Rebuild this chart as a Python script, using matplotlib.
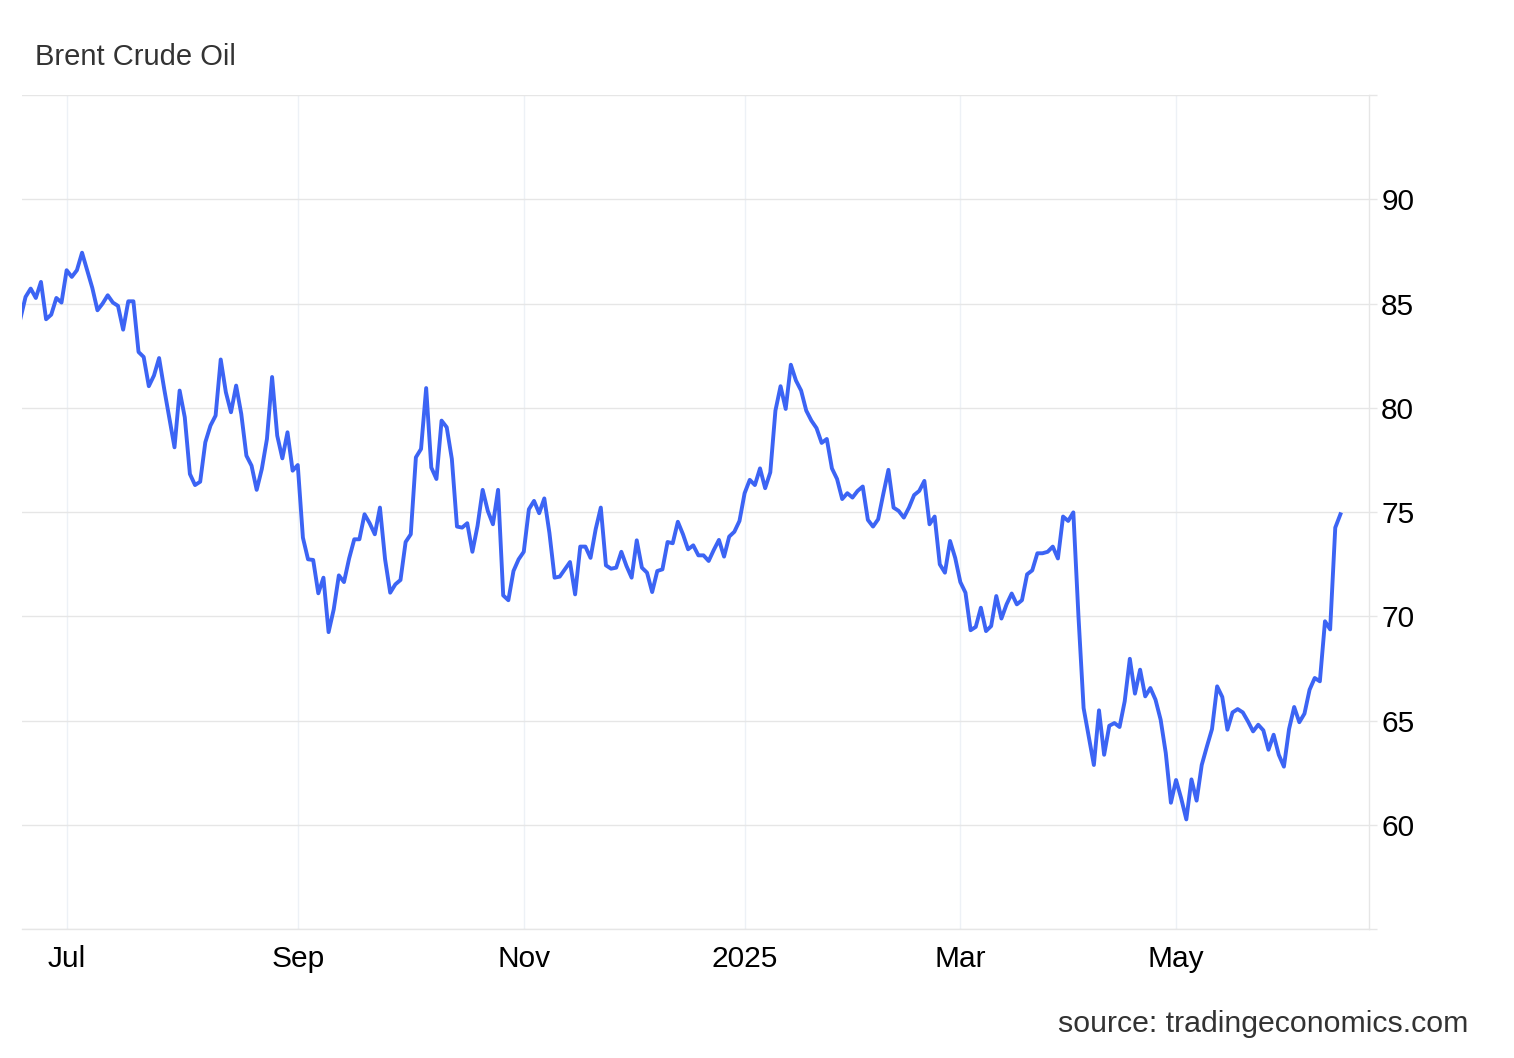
import numpy as np
import pandas as pd
import matplotlib
matplotlib.use("Agg")
import matplotlib.pyplot as plt

plt.rcParams["font.family"] = ["Liberation Sans", "DejaVu Sans"]

# Brent crude, one close per trading session
jun_aug_2024 = [84.28, 85.32, 85.72, 85.27, 86.04, 84.25, 84.47, 85.27, 85.05,
                86.6, 86.28, 86.6, 87.44, 86.6, 85.75, 84.68, 85.0, 85.4, 85.05,
                84.89, 83.75, 85.11, 85.11, 82.68, 82.44, 81.04, 81.55, 82.39, 80.9,
                79.5, 78.11, 80.83, 79.55, 76.83, 76.3, 76.46, 78.35, 79.15, 79.63,
                82.32, 80.75, 79.79, 81.07, 79.71, 77.71, 77.23, 76.07, 77.07, 78.51,
                81.48, 78.67, 77.58, 78.83, 76.99]
sep_oct_2024 = [77.26, 73.78, 72.74, 72.71, 71.11, 71.86, 69.25, 70.34, 71.97, 71.65,
                72.78, 73.7, 73.7, 74.9, 74.47, 73.94, 75.22, 72.74, 71.14, 71.54,
                71.75, 73.57, 73.94, 77.63, 78.03, 80.95, 77.14, 76.59, 79.39, 79.07,
                77.55, 74.31, 74.26, 74.47, 73.1, 74.34, 76.07, 75.06, 74.42, 76.07,
                71.01, 70.78, 72.18, 72.74]
nov_dec_2024 = [73.1, 75.14, 75.54, 74.95, 75.66, 74.0, 71.86, 71.91, 72.26, 72.61,
                71.06, 73.35, 73.35, 72.81, 74.18, 75.22, 72.45, 72.29, 72.34, 73.1,
                72.42, 71.86, 73.65, 72.34, 72.1, 71.17, 72.18, 72.26, 73.57, 73.51,
                74.54, 73.94, 73.22, 73.41, 72.93, 72.93, 72.66, 73.19, 73.67, 72.87,
                73.83, 74.06, 74.58]
jan_feb_2025 = [75.91, 76.55, 76.3, 77.1, 76.15, 76.91, 79.87, 81.04, 79.95, 82.07,
                81.31, 80.83, 79.87, 79.39, 79.03, 78.32, 78.51, 77.1, 76.59, 75.63,
                75.91, 75.7, 76.02, 76.23, 74.63, 74.31, 74.66, 75.87, 77.03, 75.22,
                75.06, 74.74, 75.22, 75.82, 76.02, 76.5, 74.42, 74.79, 72.5, 72.1,
                73.62, 72.81]
mar_apr_2025 = [71.65, 71.14, 69.34, 69.5, 70.42, 69.3, 69.54, 70.98, 69.9, 70.58,
                71.1, 70.58, 70.78, 72.02, 72.21, 73.03, 73.03, 73.1, 73.35, 72.78,
                74.79, 74.58, 74.99, 70.01, 65.61, 64.25, 62.88, 65.5, 63.37, 64.76,
                64.89, 64.7, 65.93, 67.97, 66.3, 67.45, 66.17, 66.57, 66.01, 65.05,
                63.45, 61.07]
may_jun_2025 = [62.16, 61.28, 60.27, 62.19, 61.17, 62.88, 63.76, 64.6, 66.65, 66.14,
                64.57, 65.4, 65.56, 65.4, 64.97, 64.49, 64.81, 64.54, 63.61, 64.33,
                63.37, 62.8, 64.6, 65.66, 64.93, 65.34, 66.49, 67.05, 66.89, 69.77,
                69.38, 74.26, 74.9]

holidays = ["2025-01-01", "2025-04-18"]
tick_months = ["2024-07", "2024-09", "2024-11", "2025-01", "2025-03", "2025-05"]
tick_labels = ["Jul", "Sep", "Nov", "2025", "Mar", "May"]
y_ticks = [55, 60, 65, 70, 75, 80, 85, 90, 95]
y_labels = ["", "60", "65", "70", "75", "80", "85", "90", ""]

price = jun_aug_2024 + sep_oct_2024 + nov_dec_2024 + jan_feb_2025 + mar_apr_2025 + may_jun_2025
dates = pd.bdate_range("2024-06-18", "2025-06-16", freq="C", holidays=holidays)
months = np.array(dates.strftime("%Y-%m"))
x = np.arange(len(price))
tick_pos = [int(np.argmax(months == m)) for m in tick_months]

fig = plt.figure(figsize=(15.14, 10.58), dpi=100)
ax = fig.add_axes([0.0145, 0.1216, 0.8895, 0.7886])

ax.plot(x, price, color="#3c64f4", lw=2.8, solid_joinstyle="round", zorder=3)

ax.set_xlim(0.3, len(price) - 1 + 5.5)
ax.set_ylim(55, 95)

ax.set_xticks(tick_pos)
ax.set_xticklabels(tick_labels)
ax.set_yticks(y_ticks)
ax.set_yticklabels(y_labels)

ax.yaxis.tick_right()
ax.tick_params(axis="y", direction="out", length=6, width=1, color="#e6e6e6",
               labelsize=21.5, pad=3, labelcolor="black")
ax.tick_params(axis="x", length=0, labelsize=21.5, pad=11, labelcolor="black")

ax.grid(axis="y", color="#e6e6e6", lw=1.0)
ax.grid(axis="x", color="#edf1f6", lw=1.0)
ax.set_axisbelow(True)

for side in ["left", "top"]:
    ax.spines[side].set_visible(False)
for side in ["right", "bottom"]:
    ax.spines[side].set_color("#e6e6e6")
    ax.spines[side].set_linewidth(1.0)

fig.text(35 / 1514, 1 - 57 / 1058, "Brent Crude Oil", fontsize=21, color="#333333",
         va="center", ha="left")
fig.text(1468 / 1514, 1 - 1024 / 1058, "source: tradingeconomics.com", fontsize=21.8,
         color="#333333", va="center", ha="right")

fig.savefig("out.png", dpi=100)
